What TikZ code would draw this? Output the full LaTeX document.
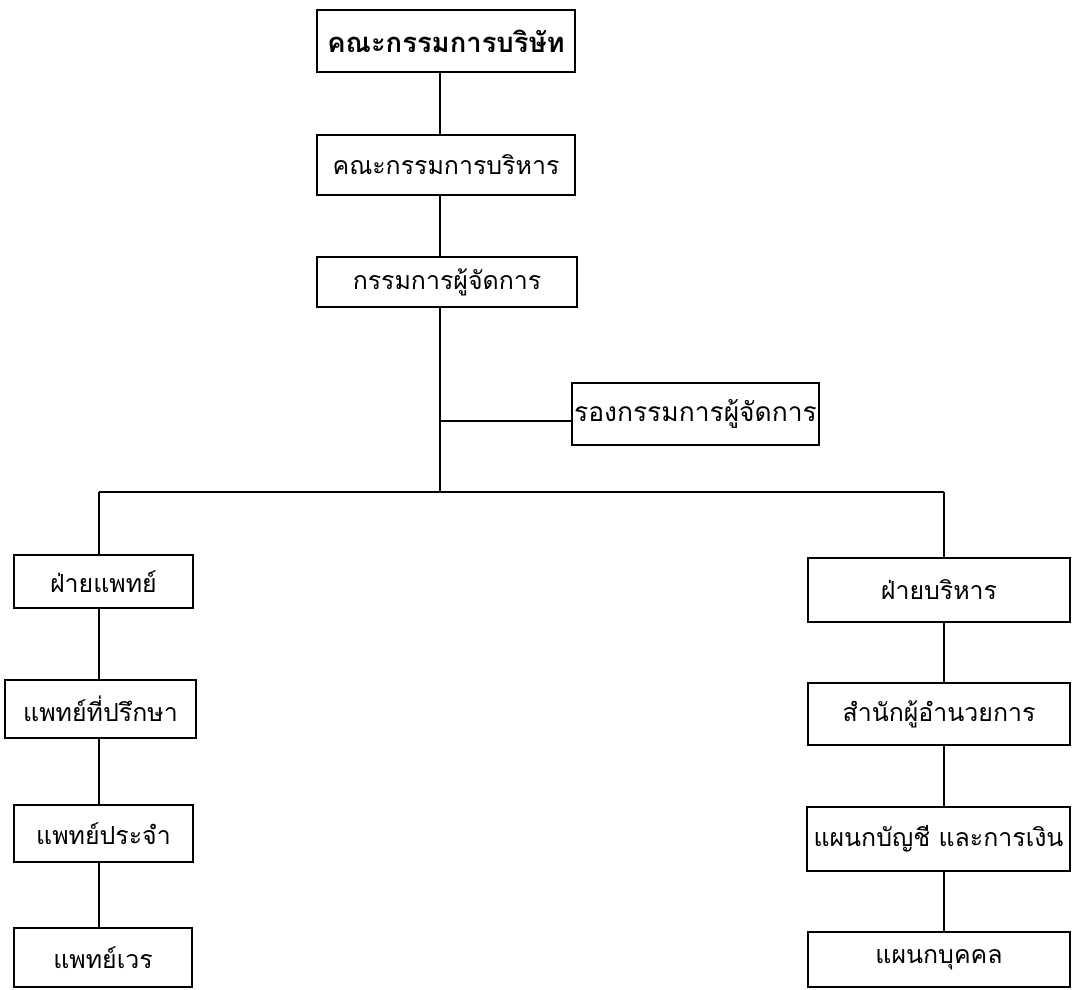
\documentclass[tikz,border=0pt]{standalone}
\usepackage{fontspec}
\newfontfamily\thaifont[Script=Thai]{Loma}
\begin{document}
\begin{tikzpicture}[x=1bp,y=-1bp,
  box/.style={draw=black,line width=2.8bp,inner sep=0pt,align=center,
    font=\thaifont\fontsize{25}{28}\selectfont},
  conn/.style={draw=black,line width=1.9bp}]
\useasboundingbox (0,0) rectangle (1073,990);
\node[box,minimum width=258bp,minimum height=62bp,font=\thaifont\bfseries\fontsize{27.5}{30}\selectfont] (b1) at (446,41) {คณะกรรมการบริษัท};
\node[box,minimum width=258bp,minimum height=60bp] (b2) at (446,165) {คณะกรรมการบริหาร};
\node[box,minimum width=260bp,minimum height=50bp] (b3) at (447,282) {กรรมการผู้จัดการ};
\node[box,minimum width=247bp,minimum height=62bp,font=\thaifont\fontsize{26.5}{29}\selectfont] (b4) at (695.5,414) {รองกรรมการผู้จัดการ};
\node[box,minimum width=179bp,minimum height=53bp] (l1) at (103.5,581.5) {ฝ่ายแพทย์};
\node[box,minimum width=191bp,minimum height=58bp] (l2) at (100.5,709) {แพทย์ที่ปรึกษา};
\node[box,minimum width=179bp,minimum height=57bp] (l3) at (103.5,833.5) {แพทย์ประจำ};
\node[box,minimum width=178bp,minimum height=59bp] (l4) at (103,957.5) {แพทย์เวร};
\node[box,minimum width=262bp,minimum height=64bp] (r1) at (939,590) {ฝ่ายบริหาร};
\node[box,minimum width=262bp,minimum height=62bp] (r2) at (939,714) {สำนักผู้อำนวยการ};
\node[box,minimum width=263bp,minimum height=64bp] (r3) at (938.5,839) {แผนกบัญชี และการเงิน};
\node[box,minimum width=262bp,minimum height=55bp] (r4) at (939,959.5) {แผนกบุคคล};
\coordinate (t) at (440,0);
\coordinate (lx) at (99,0);
\coordinate (rx) at (944,0);
\coordinate (bus) at (0,492);
\coordinate (j) at (0,421);
\draw[conn] (b1.south -| t) -- (b2.north -| t);
\draw[conn] (b2.south -| t) -- (b3.north -| t);
\draw[conn] (b3.south -| t) -- (bus -| t);
\draw[conn] (j -| t) -- (j -| b4.west);
\draw[conn] (bus -| lx) -- (bus -| rx);
\draw[conn] (bus -| lx) -- (l1.north -| lx);
\draw[conn] (l1.south -| lx) -- (l2.north -| lx);
\draw[conn] (l2.south -| lx) -- (l3.north -| lx);
\draw[conn] (l3.south -| lx) -- (l4.north -| lx);
\draw[conn] (bus -| rx) -- (r1.north -| rx);
\draw[conn] (r1.south -| rx) -- (r2.north -| rx);
\draw[conn] (r2.south -| rx) -- (r3.north -| rx);
\draw[conn] (r3.south -| rx) -- (r4.north -| rx);
\end{tikzpicture}
\end{document}
